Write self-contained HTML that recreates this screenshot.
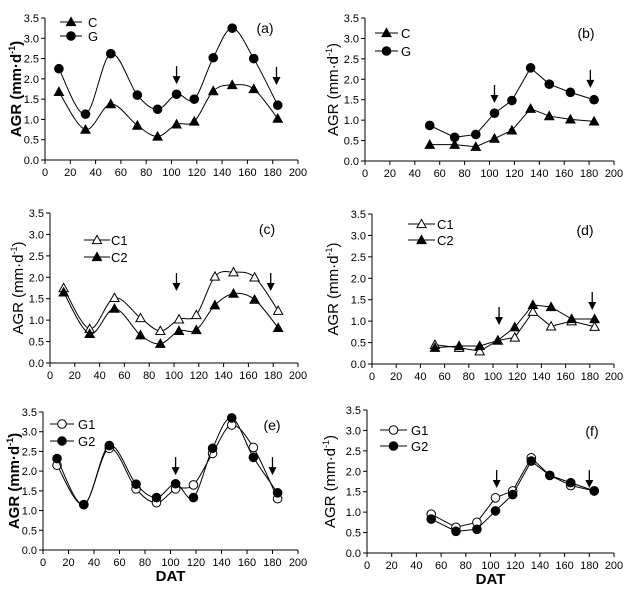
<!DOCTYPE html>
<html><head><meta charset="utf-8"><style>
body{margin:0;background:#fff;}
svg{display:block;font-family:"Liberation Sans",Arial,sans-serif;}
</style></head><body>
<svg id="chart" width="632" height="603" viewBox="0 0 632 603"></svg>
<script>
const xA=[11,32,52,73,89,104,118,133,148,165,184];
const xB=[52,72,89,104,118,133,148,165,184];
const aC=[1.68,0.75,1.38,0.85,0.58,0.88,0.95,1.7,1.85,1.75,1.02];
const aG=[2.25,1.13,2.62,1.6,1.25,1.62,1.5,2.52,3.25,2.5,1.35];
const bC=[0.4,0.4,0.35,0.55,0.75,1.28,1.1,1.02,0.97];
const bG=[0.87,0.58,0.65,1.17,1.48,2.28,1.88,1.68,1.5];
const cC1=[1.75,0.8,1.52,1.05,0.75,1.02,1.12,2.02,2.12,2.0,1.22];
const cC2=[1.65,0.68,1.27,0.65,0.45,0.75,0.77,1.35,1.62,1.48,0.82];
const dC1=[0.45,0.38,0.3,0.55,0.62,1.22,0.88,1.0,0.87];
const dC2=[0.38,0.42,0.42,0.55,0.86,1.38,1.33,1.05,1.05];
const eG1=[2.15,1.15,2.58,1.55,1.2,1.55,1.65,2.45,3.17,2.6,1.3];
const eG2=[2.32,1.15,2.65,1.67,1.33,1.68,1.33,2.58,3.35,2.35,1.45];
const fG1=[0.95,0.63,0.75,1.35,1.52,2.33,1.9,1.65,1.52];
const fG2=[0.83,0.53,0.58,1.03,1.43,2.25,1.9,1.72,1.52];
const xTicks=[0,20,40,60,80,100,120,140,160,180,200];
const yTicks=[0,0.5,1,1.5,2,2.5,3,3.5];

const NS="http://www.w3.org/2000/svg";
const svg=document.getElementById('chart');
function mk(tag,attrs,parent){const e=document.createElementNS(NS,tag);for(const k in attrs)e.setAttribute(k,attrs[k]);(parent||svg).appendChild(e);return e;}

const panels=[
 {id:'a',x0:45,x1:298,y0:160,y1:18,xs:xA,series:[[aC,'tri-fill','C'],[aG,'circ-fill','G']],smooth:true,leg:[60,82,88,22,36],lab:[265,33],arrows:[[104,1.87],[183,1.85]],bold:true,ylx:16,dat:false},
 {id:'b',x0:365,x1:614,y0:161,y1:18,xs:xB,series:[[bC,'tri-fill','C'],[bG,'circ-fill','G']],smooth:false,leg:[375,398,401,33,51],lab:[586,38],arrows:[[104,1.42],[181,1.79]],bold:false,ylx:333,dat:false},
 {id:'c',x0:50,x1:298,y0:363,y1:213,xs:xA,series:[[cC1,'tri-open','C1'],[cC2,'tri-fill','C2']],smooth:true,leg:[84,110,111,240,257],lab:[267,234],arrows:[[102,1.68],[178,1.68]],bold:false,ylx:18,dat:false},
 {id:'d',x0:372,x1:614,y0:364,y1:214,xs:xB,series:[[dC1,'tri-open','C1'],[dC2,'tri-fill','C2']],smooth:false,leg:[408,435,437,224,240],lab:[585,235],arrows:[[105,0.91],[182,1.26]],bold:false,ylx:333,dat:false},
 {id:'e',x0:43,x1:298,y0:550,y1:412,xs:xA,series:[[eG1,'circ-open','G1'],[eG2,'circ-fill','G2']],smooth:true,leg:[50,74,78,424,441],lab:[272,430],arrows:[[104,1.9],[180,1.9]],bold:true,ylx:14,dat:true},
 {id:'f',x0:367,x1:614,y0:553,y1:410,xs:xB,series:[[fG1,'circ-open','G1'],[fG2,'circ-fill','G2']],smooth:false,leg:[380,407,411,430,446],lab:[592,436],arrows:[[105,1.59],[180,1.59]],bold:false,ylx:330,dat:true}
];

function marker(g,type,x,y){
 let e;
 if(type.startsWith('tri')){const s=4.6;e=mk('polygon',{points:`${x},${y-s} ${x-s},${y+s*0.8} ${x+s},${y+s*0.8}`,fill:type==='tri-fill'?'#000':'#fff',stroke:'#000','stroke-width':1},g);}
 else{e=mk('circle',{cx:x,cy:y,r:4.3,fill:type==='circ-fill'?'#000':'#fff',stroke:'#000','stroke-width':1},g);}
 return e;
}
function pathD(pts,smooth){
 if(!smooth)return 'M'+pts.map(p=>p.join(',')).join(' L');
 let d='M'+pts[0].join(',');
 for(let i=0;i<pts.length-1;i++){
  const p0=pts[Math.max(i-1,0)],p1=pts[i],p2=pts[i+1],p3=pts[Math.min(i+2,pts.length-1)];
  const t=6;
  d+=` C${p1[0]+(p2[0]-p0[0])/t},${p1[1]+(p2[1]-p0[1])/t} ${p2[0]-(p3[0]-p1[0])/t},${p2[1]-(p3[1]-p1[1])/t} ${p2[0]},${p2[1]}`;
 }
 return d;
}

panels.forEach(P=>{
 const g=mk('g',{});
 
 
 const sx=v=>P.x0+(v/200)*(P.x1-P.x0);
 const sy=v=>P.y0-(v/3.5)*(P.y0-P.y1);
 const ax=mk('path',{d:`M${P.x0},${P.y1} L${P.x0},${P.y0} L${P.x1},${P.y0}`,fill:'none',stroke:'#000','stroke-width':1},g);
 
 
 xTicks.forEach(t=>{
  mk('line',{x1:sx(t),x2:sx(t),y1:P.y0,y2:P.y0+4,stroke:'#000'},g);
  const tx=mk('text',{x:sx(t),y:P.y0+16,'font-size':11,'text-anchor':'middle'},g);
  tx.textContent=t;
  
  
 });
 yTicks.forEach(t=>{
  mk('line',{x1:P.x0-4,x2:P.x0,y1:sy(t),y2:sy(t),stroke:'#000'},g);
  const tx=mk('text',{x:P.x0-6,y:sy(t)+4,'font-size':11,'text-anchor':'end'},g);
  tx.textContent=t.toFixed(1);
  
  
 });
 const yl=mk('text',{x:P.ylx,y:(P.y0+P.y1)/2,'font-size':15,'font-weight':P.bold?'bold':'normal','text-anchor':'middle',transform:`rotate(-90 ${P.ylx} ${(P.y0+P.y1)/2})`,dy:5},g);
 yl.innerHTML='AGR (mm·d<tspan font-size="9" dy="-6">-1</tspan><tspan dy="6">)</tspan>';
 
 
 if(P.dat){
  const dt=mk('text',{x:(P.x0+P.x1)/2,y:P.y0+31,'font-size':15,'font-weight':'bold','text-anchor':'middle'},g);
  dt.textContent='DAT';
  
  
 }
 const lb=mk('text',{x:P.lab[0],y:P.lab[1],'font-size':14,'text-anchor':'middle'},g);
 lb.textContent='('+P.id+')';
 
 
 P.series.forEach((s,si)=>{
  const vals=s[0];
  const pts=P.xs.map((x,i)=>[sx(x),sy(vals[i])]);
  const ln=mk('path',{d:pathD(pts,P.smooth),fill:'none',stroke:'#000','stroke-width':1},g);
  
  
  pts.forEach(p=>{
   const m=marker(g,s[1],p[0],p[1]);
   
   
  });
  const ly=P.leg[3+si];
  mk('line',{x1:P.leg[0],x2:P.leg[1],y1:ly,y2:ly,stroke:'#000'},g);
  const lm=marker(g,s[1],(P.leg[0]+P.leg[1])/2,ly);
  
  
  const lt=mk('text',{x:P.leg[2],y:ly+5,'font-size':13},g);
  lt.textContent=s[2];
  
  
 });
 P.arrows.forEach(a=>{
  const x=sx(a[0]),yb=sy(a[1]),yt=yb-18;
  const ar=mk('g',{},g);
  
  
  mk('line',{x1:x,x2:x,y1:yt,y2:yb-6,stroke:'#000','stroke-width':1.3},ar);
  mk('polygon',{points:`${x-4},${yb-8} ${x+4},${yb-8} ${x},${yb}`,fill:'#000'},ar);
 });
});
</script>
</body></html>
